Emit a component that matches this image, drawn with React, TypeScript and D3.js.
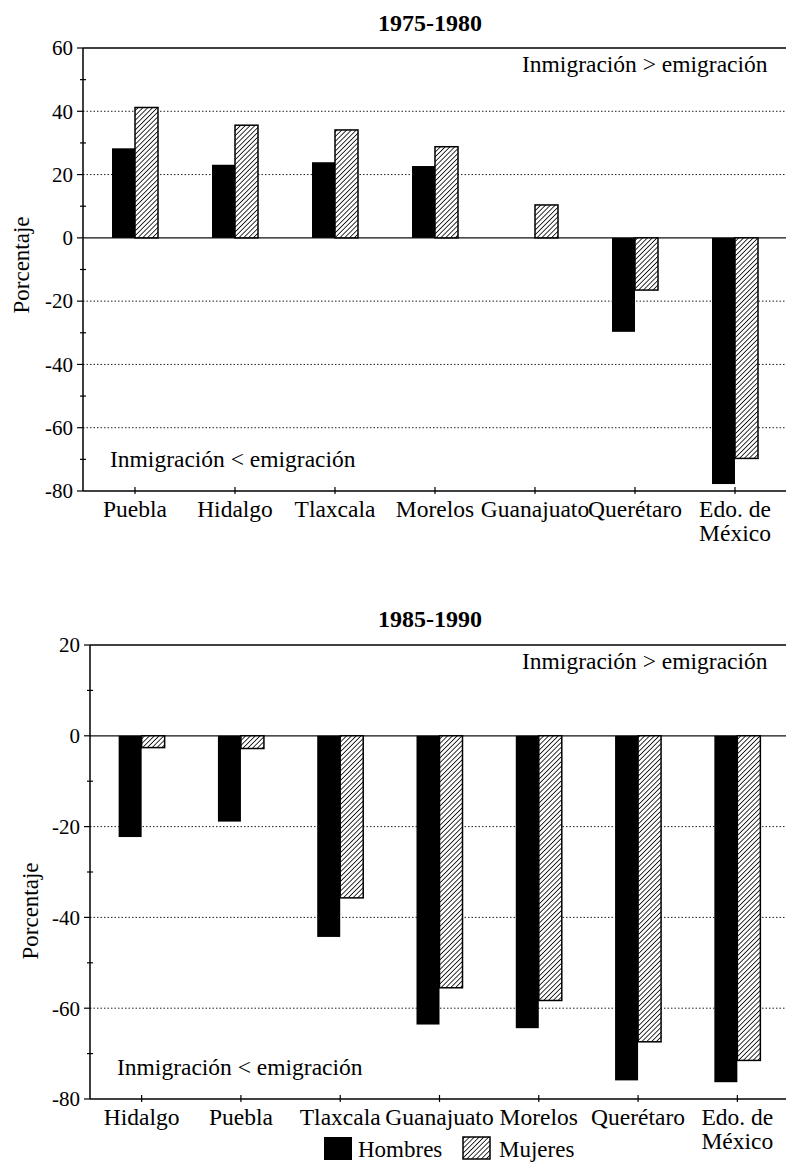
import * as d3 from "d3";

const categories1975 = ["Puebla", "Hidalgo", "Tlaxcala", "Morelos", "Guanajuato", "Querétaro", "Edo. de|México"];
const hombres1975 = [28.3, 23.1, 23.9, 22.7, 0, -29.7, -77.8];
const mujeres1975 = [41.2, 35.6, 34.1, 28.8, 10.4, -16.5, -69.7];

const categories1985 = ["Hidalgo", "Puebla", "Tlaxcala", "Guanajuato", "Morelos", "Querétaro", "Edo. de|México"];
const hombres1985 = [-22.3, -18.9, -44.3, -63.6, -64.4, -75.9, -76.3];
const mujeres1985 = [-2.6, -2.8, -35.7, -55.5, -58.3, -67.4, -71.5];

const seriesNames = ["Hombres", "Mujeres"];
const aboveLabel = "Inmigración > emigración";
const belowLabel = "Inmigración < emigración";

const FONT = "'Liberation Serif', 'DejaVu Serif', serif";
const W = 786;
const H = 1163;

type PanelProps = {
  title: string;
  cats: string[];
  hombres: number[];
  mujeres: number[];
  domain: [number, number];
  left: number;
  bandRange: [number, number];
  top: number;
  bottom: number;
  titleY: number;
  ylabelX: number;
  ylabelY: number;
};

function Panel(p: PanelProps) {
  const x = d3.scaleBand().domain(p.cats).range(p.bandRange).paddingInner(0).paddingOuter(0);
  const y = d3.scaleLinear().domain(p.domain).range([p.bottom, p.top]);
  const major = d3.range(p.domain[0], p.domain[1] + 1, 20);
  const minor = d3.range(p.domain[0] + 10, p.domain[1], 20);
  const barW = 23;
  const right = W;
  return (
    <g>
      <text x={430} y={p.titleY} textAnchor="middle" fontFamily={FONT} fontWeight="bold" fontSize={24}>
        {p.title}
      </text>
      {/* grid */}
      {major
        .filter((v) => v !== 0 && v !== p.domain[0] && v !== p.domain[1])
        .map((v) => (
          <line key={"g" + v} x1={p.left} x2={right} y1={y(v)} y2={y(v)} stroke="#222" strokeWidth={1} strokeDasharray="1.5,2" />
        ))}
      <line x1={p.left} x2={right} y1={y(0)} y2={y(0)} stroke="#111" strokeWidth={1.2} />
      {/* bars */}
      {p.cats.map((c, i) => {
        const cx = (x(c) as number) + x.bandwidth() / 2;
        const h = p.hombres[i];
        const m = p.mujeres[i];
        return (
          <g key={c}>
            {h !== 0 && (
              <rect x={cx - barW} y={Math.min(y(h), y(0))} width={barW} height={Math.abs(y(h) - y(0))} fill="#000" />
            )}
            <rect
              x={cx}
              y={Math.min(y(m), y(0))}
              width={barW}
              height={Math.abs(y(m) - y(0))}
              fill="url(#hatch)"
              stroke="#000"
              strokeWidth={1.5}
            />
          </g>
        );
      })}
      {/* frame */}
      <line x1={p.left} x2={right} y1={p.top} y2={p.top} stroke="#000" strokeWidth={1.5} />
      <line x1={p.left} x2={right} y1={p.bottom} y2={p.bottom} stroke="#000" strokeWidth={1.5} />
      <line x1={p.left} x2={p.left} y1={p.top} y2={p.bottom} stroke="#000" strokeWidth={1.5} />
      {major.map((v) => (
        <g key={"t" + v}>
          <line x1={p.left - 6} x2={p.left} y1={y(v)} y2={y(v)} stroke="#000" strokeWidth={1.2} />
          <text x={p.left - 10} y={y(v)} dy="0.35em" textAnchor="end" fontFamily={FONT} fontSize={21}>
            {v}
          </text>
        </g>
      ))}
      {minor.map((v) => (
        <line key={"m" + v} x1={p.left - 3} x2={p.left + 3} y1={y(v)} y2={y(v)} stroke="#000" strokeWidth={1.2} />
      ))}
      {p.cats.map((c) => {
        const cx = (x(c) as number) + x.bandwidth() / 2;
        const lines = c.split("|");
        return (
          <g key={"x" + c}>
            <line x1={cx} x2={cx} y1={p.bottom - 4} y2={p.bottom + 3} stroke="#000" strokeWidth={1.2} />
            {lines.map((t, j) => (
              <text key={t} x={cx} y={p.bottom + 26 + j * 24} textAnchor="middle" fontFamily={FONT} fontSize={23.5}>
                {t}
              </text>
            ))}
          </g>
        );
      })}
      <text x={522} y={p.top + 24} fontFamily={FONT} fontSize={23.5}>
        {aboveLabel}
      </text>
      <text x={p.left + 27} y={p.bottom - 24} fontFamily={FONT} fontSize={23.5}>
        {belowLabel}
      </text>
      <text
        transform={`translate(${p.ylabelX},${p.ylabelY}) rotate(-90)`}
        textAnchor="middle"
        fontFamily={FONT}
        fontSize={23}
      >
        Porcentaje
      </text>
    </g>
  );
}

export default function App() {
  return (
    <svg width={W} height={H} style={{ position: "absolute", left: 0, top: 0, background: "#fff" }}>
      <defs>
        <pattern id="hatch" width={3.4} height={3.4} patternUnits="userSpaceOnUse" patternTransform="rotate(45)">
          <rect width={3.4} height={3.4} fill="#fff" />
          <line x1={0} y1={0} x2={0} y2={3.4} stroke="#000" strokeWidth={1.6} />
        </pattern>
      </defs>
      <Panel
        title="1975-1980"
        cats={categories1975}
        hombres={hombres1975}
        mujeres={mujeres1975}
        domain={[-80, 60]}
        left={83}
        bandRange={[85, 785]}
        top={48}
        bottom={491}
        titleY={31}
        ylabelX={29}
        ylabelY={265}
      />
      <Panel
        title="1985-1990"
        cats={categories1985}
        hombres={hombres1985}
        mujeres={mujeres1985}
        domain={[-80, 20]}
        left={90}
        bandRange={[92, 787]}
        top={645}
        bottom={1099}
        titleY={627}
        ylabelX={38}
        ylabelY={911}
      />
      {/* legend */}
      <rect x={324} y={1137} width={28} height={23} fill="#000" />
      <text x={358} y={1157} fontFamily={FONT} fontSize={23}>
        {seriesNames[0]}
      </text>
      <rect x={463} y={1137} width={27} height={22} fill="url(#hatch)" stroke="#000" strokeWidth={1.5} />
      <text x={499} y={1157} fontFamily={FONT} fontSize={23}>
        {seriesNames[1]}
      </text>
    </svg>
  );
}
